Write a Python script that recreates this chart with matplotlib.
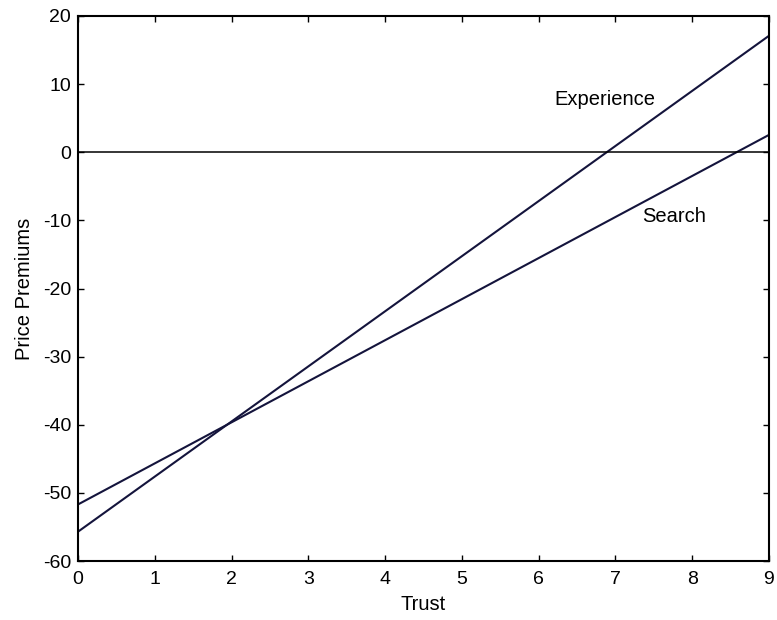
import matplotlib.pyplot as plt

plt.rcParams["font.family"] = ["Liberation Sans", "DejaVu Sans"]
plt.rcParams["axes.unicode_minus"] = False

# endpoints of the two fitted lines (trust 0 and 9)
trust = [0, 9]
experience = [-55.7, 17.1]
search = [-51.7, 2.55]

x_ticks = list(range(0, 10))
y_ticks = list(range(-60, 21, 10))

LINE_COLOR = "#14143c"
FS = 14.5


def main():
    fig = plt.figure(figsize=(7.77, 6.2), dpi=100)
    ax = fig.add_axes([78 / 777, 1 - 561 / 620, 691 / 777, 545 / 620])

    ax.plot(trust, experience, color=LINE_COLOR, lw=1.5)
    ax.plot(trust, search, color=LINE_COLOR, lw=1.5)
    ax.axhline(0, color="black", lw=1.1)

    ax.text(6.21, 7.8, "Experience", fontsize=FS, ha="left", va="center")
    ax.text(7.35, -9.5, "Search", fontsize=FS, ha="left", va="center")

    ax.set_xlim(0, 9)
    ax.set_ylim(-60, 20)
    ax.set_xticks(x_ticks)
    ax.set_yticks(y_ticks)
    ax.tick_params(direction="in", top=True, right=True, length=4.5,
                   width=1, labelsize=14)
    ax.tick_params(axis="x", pad=7.5)
    ax.tick_params(axis="y", pad=5)
    for s in ax.spines.values():
        s.set_linewidth(1.5)

    ax.set_xlabel("Trust", fontsize=FS, labelpad=5)
    ax.set_ylabel("Price Premiums", fontsize=FS, labelpad=6)

    fig.savefig("out.png", dpi=100)
    plt.close(fig)


if __name__ == "__main__":
    main()
